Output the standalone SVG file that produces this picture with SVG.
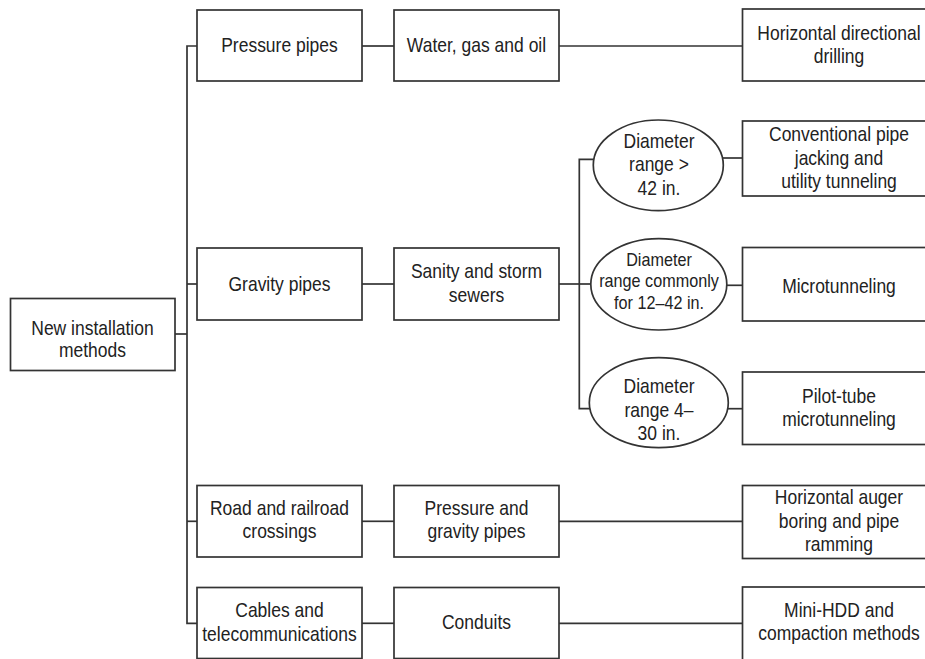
<svg xmlns="http://www.w3.org/2000/svg" width="925" height="659" viewBox="0 0 925 659">
<style>
.box{fill:#fff;stroke:#333;stroke-width:1.7}
.ell{fill:#fff;stroke:#333;stroke-width:1.7}
.con line,.con path{stroke:#333;stroke-width:1.7;fill:none}
text{font-family:"Liberation Sans",Arial,Helvetica,sans-serif;font-size:17.5px;fill:#222;text-anchor:middle;transform-box:fill-box;transform-origin:50% 50%;transform:scaleY(1.12)}
text.sm{font-size:16.2px}
</style>
<rect width="925" height="659" fill="#fff"/>
<g id="connectors" class="con">
<line x1="175" y1="334" x2="187" y2="334"/>
<path d="M197,46 H187 V623.3 H197"/>
<line x1="187" y1="284" x2="197" y2="284"/>
<line x1="187" y1="521.3" x2="197" y2="521.3"/>
<line x1="362" y1="46" x2="394" y2="46"/>
<line x1="362" y1="284" x2="394" y2="284"/>
<line x1="362" y1="521.3" x2="394" y2="521.3"/>
<line x1="362" y1="623.3" x2="394" y2="623.3"/>
<line x1="559" y1="46" x2="742.5" y2="46"/>
<line x1="559" y1="284" x2="591" y2="284"/>
<path d="M594.5,159.3 H579.3 V408.7 H590"/>
<line x1="723" y1="158" x2="742.5" y2="158"/>
<line x1="726.5" y1="285.3" x2="742.5" y2="285.3"/>
<line x1="728" y1="408.7" x2="742.5" y2="408.7"/>
<line x1="559" y1="521.3" x2="742.5" y2="521.3"/>
<line x1="559" y1="623.3" x2="742.5" y2="623.3"/>
</g>
<g id="root"><rect class="box" x="10.5" y="298.5" width="164.5" height="72"/>
<text x="92.5"><tspan x="92.5" y="335.2">New installation</tspan><tspan x="92.5" y="355.2">methods</tspan></text></g>
<g id="pressure"><rect class="box" x="197" y="10" width="165" height="71"/><text x="279.5" y="51">Pressure pipes</text></g>
<g id="gravity"><rect class="box" x="197" y="248" width="165" height="72"/><text x="279.5" y="290">Gravity pipes</text></g>
<g id="road"><rect class="box" x="197" y="485.5" width="165" height="71.5"/>
<text><tspan x="279.5" y="515.5">Road and railroad</tspan><tspan x="279.5" y="536.5">crossings</tspan></text></g>
<g id="cables"><rect class="box" x="197" y="587.5" width="165" height="71"/>
<text><tspan x="279.5" y="617.8">Cables and</tspan><tspan x="279.5" y="638.8">telecommunications</tspan></text></g>
<g id="water"><rect class="box" x="394" y="10" width="165" height="71"/><text x="476.5" y="51">Water, gas and oil</text></g>
<g id="sewers"><rect class="box" x="394" y="248" width="165" height="72"/>
<text><tspan x="476.5" y="278.8">Sanity and storm</tspan><tspan x="476.5" y="299.8">sewers</tspan></text></g>
<g id="pgpipes"><rect class="box" x="394" y="485.5" width="165" height="71.5"/>
<text><tspan x="476.5" y="515.5">Pressure and</tspan><tspan x="476.5" y="536.5">gravity pipes</tspan></text></g>
<g id="conduits"><rect class="box" x="394" y="587.5" width="165" height="71"/><text x="476.5" y="628.6">Conduits</text></g>
<g id="d42"><ellipse class="ell" cx="658.3" cy="165.3" rx="65" ry="45.3"/>
<text><tspan x="659" y="149.6">Diameter</tspan><tspan x="659" y="170.6">range &gt;</tspan><tspan x="659" y="191.6">42 in.</tspan></text></g>
<g id="d1242"><ellipse class="ell" cx="658.8" cy="284.3" rx="68" ry="45.7"/>
<text class="sm"><tspan x="659" y="267.2">Diameter</tspan><tspan x="659" y="286.6">range commonly</tspan><tspan x="659" y="306">for 12–42 in.</tspan></text></g>
<g id="d430"><ellipse class="ell" cx="658.8" cy="402.7" rx="69.5" ry="45"/>
<text><tspan x="659" y="395.2">Diameter</tspan><tspan x="659" y="416.2">range 4–</tspan><tspan x="659" y="437.2">30 in.</tspan></text></g>
<g id="hdd"><rect class="box" x="742.5" y="9" width="190" height="72"/>
<text><tspan x="839" y="40.1">Horizontal directional</tspan><tspan x="839" y="61.1">drilling</tspan></text></g>
<g id="conventional"><rect class="box" x="742.5" y="121" width="190" height="75"/>
<text><tspan x="839" y="143">Conventional pipe</tspan><tspan x="839" y="164">jacking and</tspan><tspan x="839" y="185">utility tunneling</tspan></text></g>
<g id="micro"><rect class="box" x="742.5" y="247.5" width="190" height="73.5"/><text x="839" y="292.6">Microtunneling</text></g>
<g id="pilot"><rect class="box" x="742.5" y="372" width="190" height="72.5"/>
<text><tspan x="839" y="403.5">Pilot-tube</tspan><tspan x="839" y="424.5">microtunneling</tspan></text></g>
<g id="auger"><rect class="box" x="742.5" y="485.5" width="190" height="73"/>
<text><tspan x="839" y="505.8">Horizontal auger</tspan><tspan x="839" y="526.8">boring and pipe</tspan><tspan x="839" y="547.8">ramming</tspan></text></g>
<g id="minihdd"><rect class="box" x="742.5" y="587" width="190" height="75"/>
<text><tspan x="839" y="617.1">Mini-HDD and</tspan><tspan x="839" y="638.1">compaction methods</tspan></text></g>
</svg>
